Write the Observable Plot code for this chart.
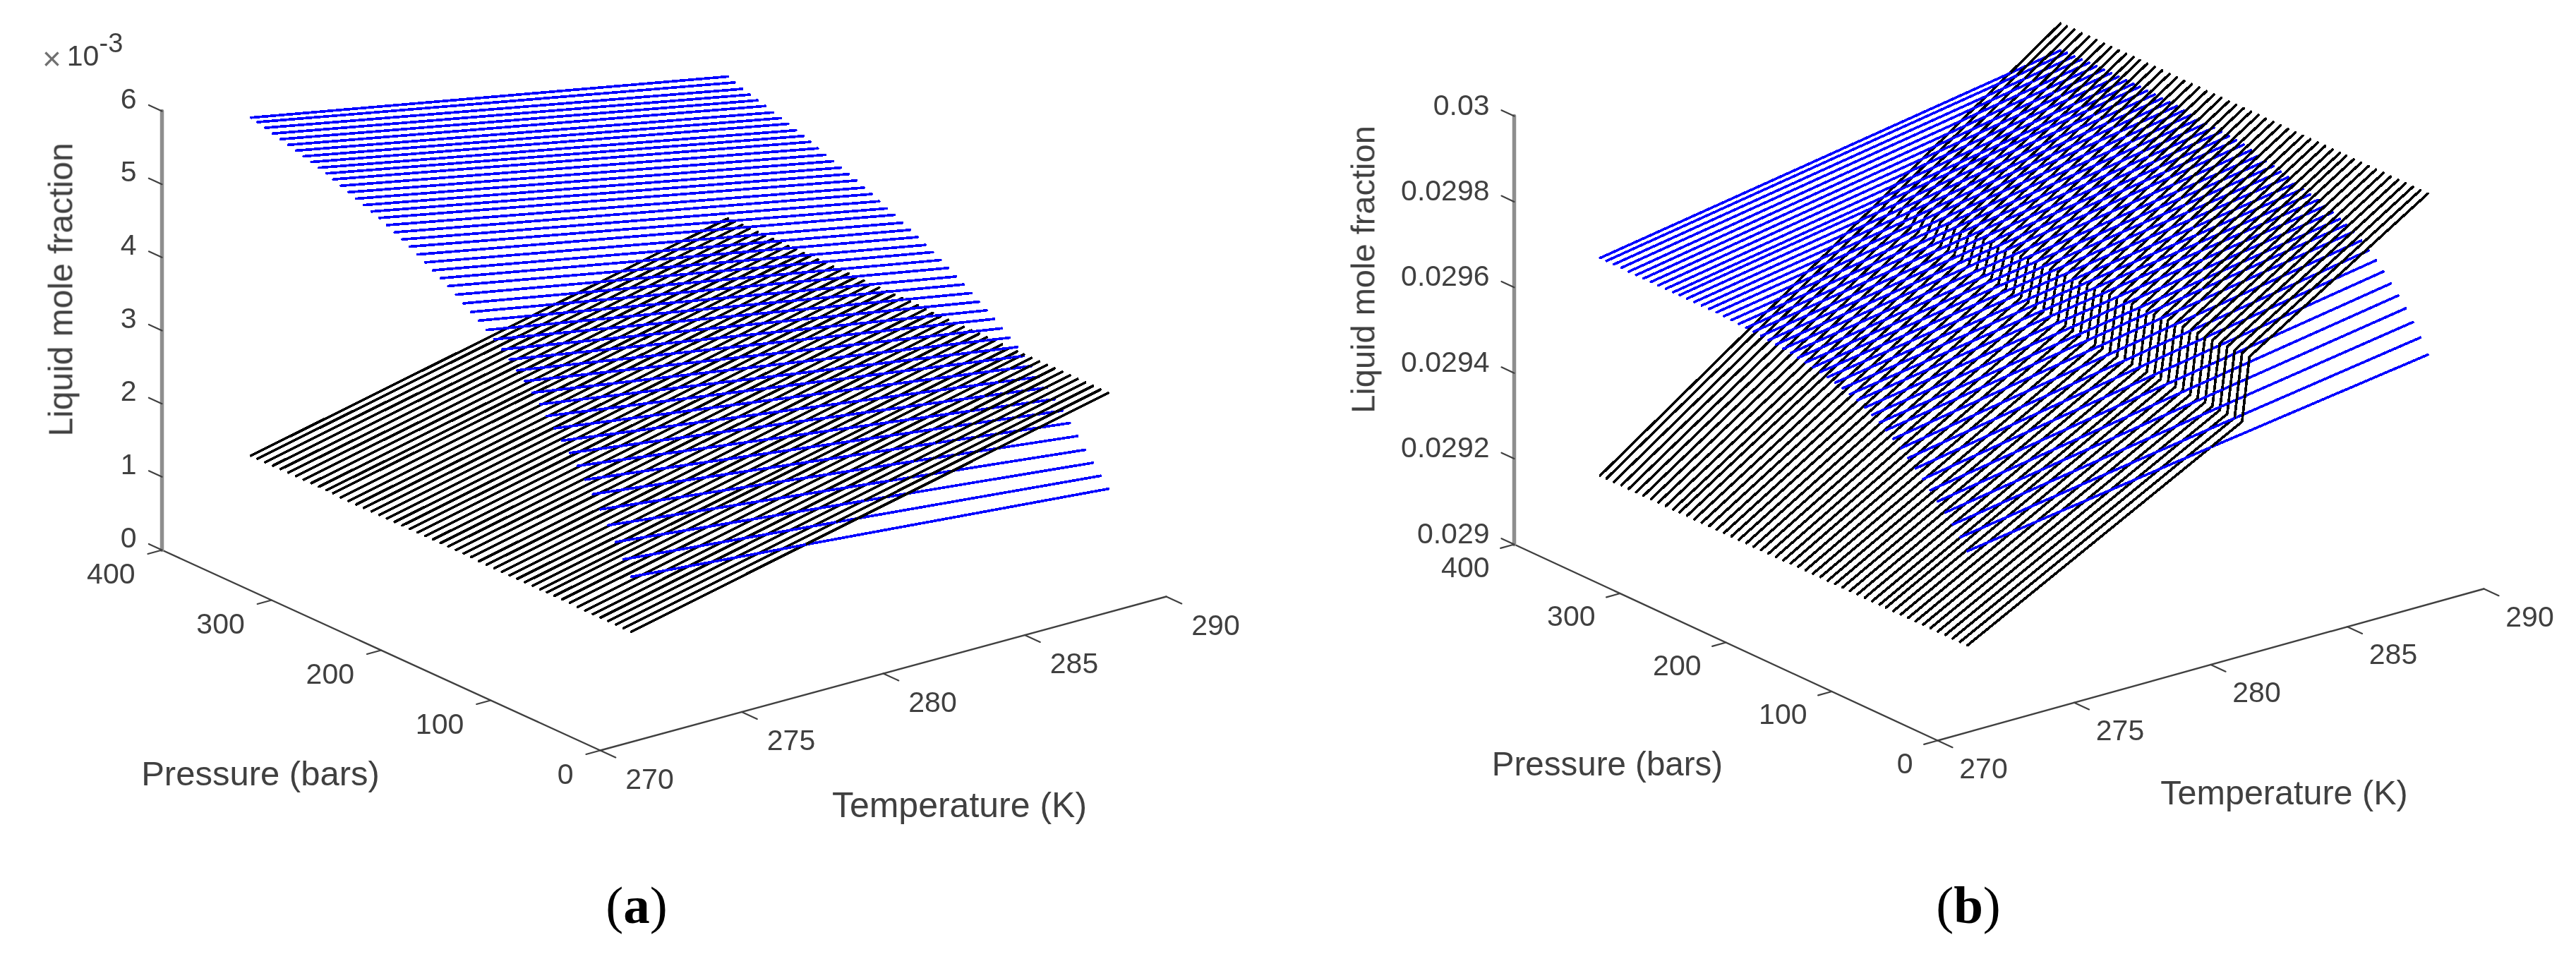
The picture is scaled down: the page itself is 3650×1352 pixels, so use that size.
<!DOCTYPE html>
<html><head><meta charset="utf-8">
<script src="https://cdn.jsdelivr.net/npm/d3@7"></script>
<script src="https://cdn.jsdelivr.net/npm/@observablehq/plot@0.6"></script>
<style>
html,body{margin:0;padding:0;background:#fff}
#row{display:flex;width:3650px;height:1352px;overflow:hidden}
.panel{position:relative;width:1825px;height:1352px}
.cap{position:absolute;top:1235px;transform:translateX(-50%);font:75px/96px "Liberation Serif",serif;color:#000;white-space:nowrap}
.cap b{font-weight:700}
svg text{filter:blur(0.5px)}
</style></head><body><div id="row"></div>
<script>
// ---- Shared axes ----
const temperatureTicks = [270,275,280,285,290];
const pressureTicks = [0,100,200,300,400];
const lineTemperatureRange = [273.15,290];
const pressures = [53,60,67,74,81,88,95,102,109,116,123,130,136,143,150,157,164,171,178,185,192,199,206,213,220,227,234,241,248,255,262,269,276,283,290,297,304,311,318,325,331,338,345,352,359,366,373,380,387,394,400];
const jumpTemperatures = [283.2,283.47];

// ---- Panel (a): liquid mole fraction, units of 1e-3 ----
const zTicksA = [0,1,2,3,4,5,6];
const zLabelsA = ["0","1","2","3","4","5","6"];
const blueA_low = [1.68,1.87,2.06,2.24,2.41,2.57,2.72,2.86,2.99,3.11,3.23,3.35,3.47,3.58,3.69,3.79,3.89,3.98,4.07,4.15,4.23,4.30,4.37,4.44,4.51,4.57,4.63,4.69,4.75,4.81,4.86,4.91,4.96,5.01,5.05,5.09,5.13,5.17,5.21,5.25,5.29,5.32,5.35,5.38,5.41,5.44,5.47,5.50,5.53,5.56,5.58];
const blueA_high = [1.11,1.24,1.37,1.50,1.64,1.77,1.89,2.00,2.11,2.21,2.31,2.40,2.48,2.56,2.64,2.72,2.79,2.86,2.93,3.00,3.06,3.13,3.19,3.25,3.30,3.36,3.41,3.46,3.52,3.56,3.61,3.66,3.70,3.75,3.79,3.83,3.87,3.91,3.95,3.99,4.03,4.06,4.10,4.13,4.16,4.20,4.23,4.26,4.29,4.33,4.37];
const blackA_low = [0.93,0.93,0.93,0.93,0.93,0.93,0.93,0.93,0.94,0.94,0.94,0.94,0.94,0.94,0.94,0.94,0.94,0.94,0.94,0.94,0.94,0.95,0.95,0.95,0.95,0.95,0.95,0.95,0.95,0.95,0.95,0.95,0.95,0.95,0.95,0.95,0.95,0.95,0.95,0.96,0.96,0.96,0.96,0.96,0.96,0.96,0.96,0.96,0.96,0.96,0.96];
const blackA_high = [2.42,2.42,2.42,2.42,2.42,2.42,2.42,2.42,2.42,2.42,2.42,2.42,2.42,2.42,2.42,2.42,2.42,2.42,2.42,2.42,2.42,2.42,2.42,2.42,2.42,2.43,2.43,2.43,2.43,2.43,2.43,2.43,2.43,2.43,2.43,2.43,2.43,2.43,2.43,2.43,2.43,2.43,2.43,2.43,2.43,2.43,2.43,2.43,2.43,2.43,2.43];

// ---- Panel (b): liquid mole fraction above 0.029, units of 1e-3 ----
const zTicksB = [0,0.2,0.4,0.6,0.8,1];
const zLabelsB = ["0.029","0.0292","0.0294","0.0296","0.0298","0.03"];
const blueB_low = [0.326,0.350,0.372,0.392,0.410,0.428,0.446,0.463,0.479,0.494,0.508,0.520,0.531,0.541,0.550,0.559,0.565,0.571,0.576,0.581,0.585,0.588,0.591,0.594,0.597,0.599,0.601,0.603,0.605,0.607,0.608,0.609,0.610,0.611,0.612,0.612,0.612,0.612,0.612,0.612,0.612,0.612,0.612,0.612,0.612,0.612,0.612,0.613,0.613,0.613,0.613];
const blueB_high = [0.486,0.518,0.546,0.570,0.592,0.612,0.632,0.650,0.665,0.680,0.693,0.701,0.708,0.715,0.722,0.728,0.733,0.738,0.743,0.749,0.754,0.759,0.763,0.767,0.772,0.777,0.779,0.781,0.783,0.785,0.787,0.789,0.791,0.793,0.795,0.796,0.797,0.798,0.799,0.800,0.800,0.800,0.801,0.801,0.801,0.801,0.801,0.801,0.800,0.800,0.799];
const blackB_low = [0.106,0.106,0.106,0.106,0.106,0.106,0.106,0.106,0.106,0.106,0.106,0.106,0.106,0.106,0.106,0.106,0.106,0.106,0.106,0.106,0.106,0.106,0.106,0.106,0.106,0.105,0.105,0.105,0.105,0.105,0.105,0.105,0.105,0.105,0.105,0.105,0.105,0.105,0.105,0.105,0.105,0.105,0.105,0.105,0.105,0.105,0.105,0.105,0.105,0.105,0.105];
const blackB_beforeJump = [0.450,0.451,0.452,0.453,0.454,0.455,0.456,0.457,0.458,0.459,0.460,0.461,0.462,0.463,0.464,0.465,0.466,0.467,0.468,0.469,0.470,0.473,0.476,0.479,0.482,0.485,0.488,0.491,0.494,0.497,0.500,0.503,0.506,0.509,0.512,0.515,0.518,0.521,0.524,0.527,0.530,0.533,0.536,0.539,0.542,0.545,0.548,0.551,0.553,0.555,0.557];
const blackB_afterJump = [0.597,0.597,0.596,0.596,0.596,0.595,0.595,0.595,0.594,0.594,0.594,0.593,0.593,0.593,0.592,0.592,0.592,0.591,0.591,0.591,0.590,0.589,0.589,0.588,0.588,0.587,0.587,0.586,0.586,0.585,0.585,0.584,0.584,0.583,0.583,0.582,0.582,0.581,0.580,0.579,0.578,0.577,0.576,0.575,0.574,0.573,0.572,0.571,0.570,0.570,0.569];
const blackB_high = [0.862,0.862,0.862,0.862,0.862,0.862,0.862,0.862,0.862,0.862,0.862,0.862,0.862,0.862,0.862,0.862,0.862,0.862,0.862,0.862,0.862,0.862,0.862,0.862,0.862,0.862,0.862,0.862,0.862,0.862,0.862,0.862,0.862,0.862,0.862,0.862,0.862,0.862,0.862,0.862,0.862,0.862,0.862,0.862,0.862,0.862,0.862,0.862,0.862,0.862,0.862];

// ---- View settings (camera of each 3-D box, in panel pixels) ----
const svgH = 1235;
const viewA = {ox:850,oy:1063,tx:802,ty:-218,px:-621,py:-284,zh:622,zMax:6};
const viewB = {ox:920,oy:1049,tx:774,ty:-215,px:-600,py:-278,zh:607,zMax:1};
const project = (v,T,P,z) => [
  v.ox + (T-270)/20*v.tx + P/400*v.px,
  v.oy + (T-270)/20*v.ty + P/400*v.py - z/v.zMax*v.zh
];

// Piecewise-linear read of one line
const at = (Ts,Zs,t) => {
  for (let k=0;k<Ts.length-1;k++) if (t<=Ts[k+1]) return Zs[k]+(Zs[k+1]-Zs[k])*(t-Ts[k])/(Ts[k+1]-Ts[k]);
  return Zs[Zs.length-1];
};

// Split the blue lines where they pass through the black surface: the higher surface hides the lower one
function buildLayers(v,blackOf,blueOf){
  const blueUnder=[],blueOver=[],black=[];
  let seg=0;
  pressures.forEach((P,i)=>{
    const bk=blackOf(i), bl=blueOf(i);
    bk.T.forEach((t,k)=>{const [x,y]=project(v,t,P,bk.z[k]);black.push({x,y,seg:i});});
    const d=t=>at(bl.T,bl.z,t)-at(bk.T,bk.z,t);
    let ts=[...new Set([...bk.T,...bl.T])].sort((a,b)=>a-b);
    const extra=[];
    for(let k=0;k<ts.length-1;k++){
      const a=d(ts[k]),b=d(ts[k+1]);
      if(a*b<0) extra.push(ts[k]+(ts[k+1]-ts[k])*a/(a-b));
    }
    ts=[...ts,...extra].sort((a,b)=>a-b);
    for(let k=0;k<ts.length-1;k++){
      const over=d((ts[k]+ts[k+1])/2)>0, target=over?blueOver:blueUnder;
      seg++;
      [ts[k],ts[k+1]].forEach(t=>{const [x,y]=project(v,t,P,at(bl.T,bl.z,t));target.push({x,y,seg});});
    }
  });
  return {blueUnder,blueOver,black};
}

const [Tlo,Thi]=lineTemperatureRange;
const layersA=buildLayers(viewA,
  i=>({T:[Tlo,Thi],z:[blackA_low[i],blackA_high[i]]}),
  i=>({T:[Tlo,Thi],z:[blueA_low[i],blueA_high[i]]}));
const layersB=buildLayers(viewB,
  i=>({T:[Tlo,jumpTemperatures[0],jumpTemperatures[1],Thi],z:[blackB_low[i],blackB_beforeJump[i],blackB_afterJump[i],blackB_high[i]]}),
  i=>({T:[Tlo,Thi],z:[blueB_low[i],blueB_high[i]]}));

const FONT="Liberation Sans, Arial, sans-serif", INK="#404040";
const LW=3.7;
const lineStyle={strokeWidth:LW,shapeRendering:"crispEdges"};

function panel(v,layers,zTicks,zLabels,opt){
  const P=(T,p,z)=>{const [x,y]=project(v,T,p,z);return {x,y};};
  const seg=(id,a,b)=>[{...P(...a),id},{...P(...b),id}];
  const tT=0.5, tP=14, tZ=12;
  const axisT=seg("t",[270,0,0],[290,0,0]), axisP=seg("p",[270,0,0],[270,400,0]);
  const axisZ=seg("z",[270,400,0],[270,400,v.zMax]);
  const ticks=[
    ...temperatureTicks.flatMap(t=>seg("T"+t,[t,0,0],[t,-tP,0])),
    ...pressureTicks.flatMap(p=>seg("P"+p,[270,p,0],[270-tT,p,0])),
    ...zTicks.flatMap(z=>seg("Z"+z,[270,400,z],[270,400+tZ,z]))
  ];
  const txt={fontFamily:FONT,fill:INK,fontSize:41,stroke:null};
  const tl=(rows,o)=>Plot.text(rows,{x:"x",y:"y",text:"text",...txt,...o});
  const marks=[
    Plot.line(layers.blueUnder,{x:"x",y:"y",z:"seg",stroke:"#0000ff",...lineStyle}),
    Plot.line(layers.black,{x:"x",y:"y",z:"seg",stroke:"#000",...lineStyle}),
    Plot.line(layers.blueOver,{x:"x",y:"y",z:"seg",stroke:"#0000ff",...lineStyle}),
    Plot.line(axisT,{x:"x",y:"y",stroke:INK,strokeWidth:2.4}),
    Plot.line(axisP,{x:"x",y:"y",stroke:INK,strokeWidth:2.4}),
    Plot.line(axisZ,{x:"x",y:"y",stroke:"#8e8e8e",strokeWidth:5.5}),
    Plot.line(ticks,{x:"x",y:"y",z:"id",stroke:INK,strokeWidth:2.2}),
    tl(temperatureTicks.map(t=>({...P(t,0,0),text:String(t)})),{dx:opt.tLabel[0],dy:opt.tLabel[1]}),
    tl(pressureTicks.map(p=>({...P(270,p,0),text:String(p)})),{textAnchor:"end",dx:opt.pLabel[0],dy:opt.pLabel[1]}),
    tl(zTicks.map((z,i)=>({...P(270,400,z),text:zLabels[i]})),{textAnchor:"end",dx:opt.zLabel[0],dy:opt.zLabel[1]}),
    tl([{...P(270,200,0),text:"Pressure (bars)"}],{dx:opt.pTitle[0],dy:opt.pTitle[1],fontSize:opt.pTitle[2]}),
    tl([{...P(280,0,0),text:"Temperature (K)"}],{dx:opt.tTitle[0],dy:opt.tTitle[1],fontSize:opt.tTitle[2]}),
    tl([{...P(270,400,v.zMax/2),text:"Liquid mole fraction"}],{dx:opt.zTitle[0],dy:opt.zTitle[1],fontSize:opt.zTitle[2],rotate:-90})
  ];
  if(opt.exponent){
    const top=[P(270,400,v.zMax)];
    marks.push(
      tl(top.map(d=>({...d,text:"×"})),{dx:-156,dy:-73,fontSize:46,fill:"#707070"}),
      tl(top.map(d=>({...d,text:"10"})),{dx:-112,dy:-78}),
      tl(top.map(d=>({...d,text:"-3"})),{dx:-72,dy:-96,fontSize:38})
    );
  }
  return Plot.plot({width:1825,height:svgH,margin:0,
    style:{background:"#fff",fontFamily:FONT},
    x:{domain:[0,1825],axis:null},
    y:{domain:[svgH,0],axis:null},
    marks});
}

const row=document.getElementById("row");
[
  {svg:panel(viewA,layersA,zTicksA,zLabelsA,{
      tLabel:[70,41],pLabel:[-38,34],zLabel:[-36,-17],
      pTitle:[-171,176,49],tTitle:[108,187,50],zTitle:[-142,-58,48],exponent:true}),
   letter:"a",cx:902},
  {svg:panel(viewB,layersB,zTicksB,zLabelsB,{
      tLabel:[65,40],pLabel:[-35,33],zLabel:[-35,-15],
      pTitle:[-168,173,47.5],tTitle:[104,182,48.5],zTitle:[-213,-86,47],exponent:false}),
   letter:"b",cx:964}
].forEach(d=>{
  const div=document.createElement("div");div.className="panel";
  div.appendChild(d.svg);
  const c=document.createElement("div");c.className="cap";c.style.left=d.cx+"px";
  c.innerHTML="(<b>"+d.letter+"</b>)";
  div.appendChild(c);
  row.appendChild(div);
});
</script></body></html>
